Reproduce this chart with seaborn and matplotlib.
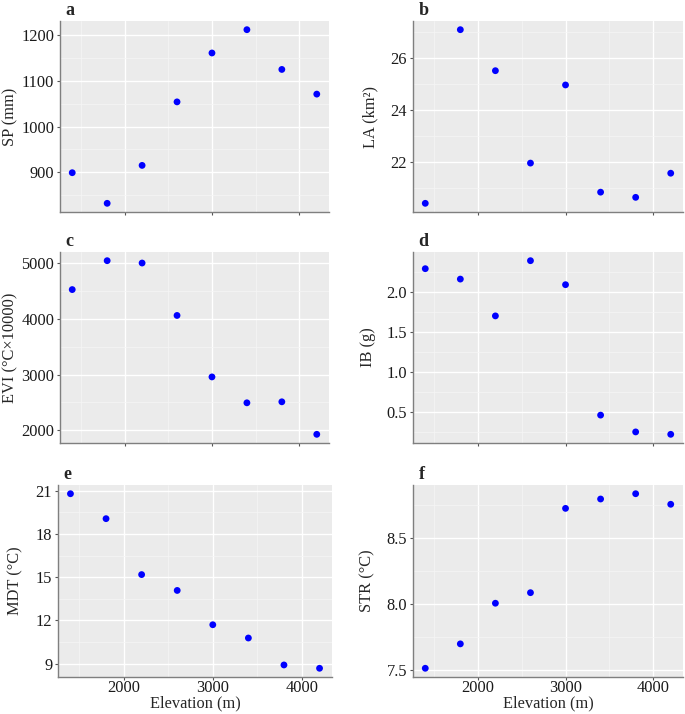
import pandas as pd
import seaborn as sns
import matplotlib.pyplot as plt
from matplotlib.ticker import AutoMinorLocator, MultipleLocator

# elevation of the sampling sites (m)
elevation = [1400, 1800, 2200, 2600, 3000, 3400, 3800, 4200]

sp = [899, 832, 915, 1054, 1161, 1212, 1125, 1071]
la = [20.40, 27.09, 25.51, 21.95, 24.96, 20.83, 20.63, 21.56]
evi = [4524, 5042, 5000, 4060, 2958, 2494, 2512, 1929]
ib = [2.29, 2.16, 1.70, 2.39, 2.09, 0.46, 0.25, 0.22]
mdt = [20.79, 19.06, 15.18, 14.08, 11.70, 10.78, 8.91, 8.68]
strv = [7.515, 7.70, 8.008, 8.088, 8.727, 8.798, 8.838, 8.758]

tags = ['a', 'b', 'c', 'd', 'e', 'f']
ylabels = ['SP (mm)', 'LA (km²)', 'EVI (°C×10000)', 'IB (g)', 'MDT (°C)', 'STR (°C)']
series = [sp, la, evi, ib, mdt, strv]
ysteps = [100, 2, 1000, 0.5, 3, 0.5]


def main():
    sns.set_style('darkgrid', {'axes.facecolor': '#EBEBEB', 'grid.color': 'white',
                               'axes.edgecolor': '#7F7F7F', 'xtick.bottom': True,
                               'ytick.left': True})
    plt.rcParams['font.family'] = ['Liberation Serif', 'DejaVu Serif']

    W, H = 685, 714
    fs = 11.8
    fig = plt.figure(figsize=(W / 100, H / 100), dpi=100)
    # panel boxes in pixels: left, top, width, height
    boxes = [(60, 21, 269, 191), (413, 21, 270, 191),
             (60, 252, 269, 191), (413, 252, 270, 191),
             (58, 485, 274, 192), (413, 485, 270, 192)]
    # right edge (px) of each rotated y label
    label_x = [18, 378, 18, 376, 23, 375]

    for i, (vals, tag, ylab, step) in enumerate(zip(series, tags, ylabels, ysteps)):
        left, top, w, h = boxes[i]
        ax = fig.add_axes([left / W, (H - top - h) / H, w / W, h / H])
        df = pd.DataFrame({'elevation': elevation, 'value': vals})
        sns.scatterplot(df, x='elevation', y='value', ax=ax, color='#0000FF',
                        s=24, edgecolor='none', zorder=3)
        ax.set_xlim(1260, 4340)
        lo, hi = min(vals), max(vals)
        pad = (hi - lo) * 0.05
        ax.set_ylim(lo - pad, hi + pad)
        ax.xaxis.set_major_locator(MultipleLocator(1000))
        ax.yaxis.set_major_locator(MultipleLocator(step))
        ax.xaxis.set_minor_locator(AutoMinorLocator(2))
        ax.yaxis.set_minor_locator(AutoMinorLocator(2))
        ax.grid(which='major', color='white', linewidth=1.0)
        ax.grid(which='minor', color='#F6F6F6', linewidth=0.5)
        for side in ['top', 'right']:
            ax.spines[side].set_visible(False)
        for side in ['left', 'bottom']:
            ax.spines[side].set_visible(True)
            ax.spines[side].set_color('#7F7F7F')
            ax.spines[side].set_linewidth(1.0)
        ax.tick_params(which='major', length=2.2, width=0.8, color='#555555',
                       labelsize=fs, labelcolor='#1A1A1A')
        ax.tick_params(axis='y', pad=2)
        ax.tick_params(axis='x', pad=0)
        ax.tick_params(which='minor', length=0)
        ax.set_ylabel(ylab, fontsize=fs)
        ax.yaxis.set_label_coords((label_x[i] - left) / w, 0.5)
        if top < 400:
            ax.set_xticklabels([])
            ax.set_xlabel('')
        else:
            ax.set_xlabel('Elevation (m)', fontsize=fs)
            ax.xaxis.set_label_coords(0.5, -(695.5 - (top + h)) / h)
        ax.text(0.02, 1 + 6 / h, tag, transform=ax.transAxes, fontsize=13,
                fontweight='bold', ha='left', va='baseline')

    plt.savefig('out.png', dpi=100)


if __name__ == '__main__':
    main()
